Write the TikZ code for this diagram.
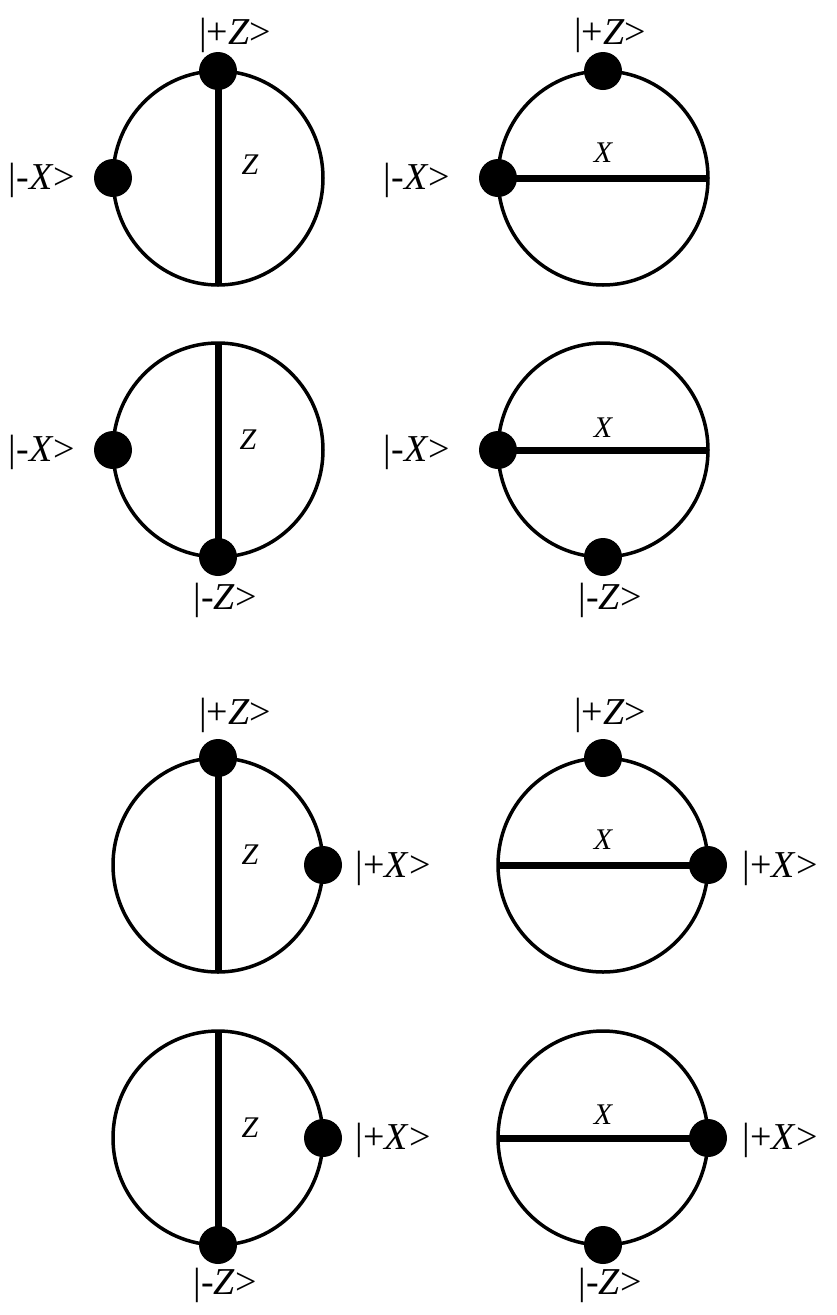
\documentclass[tikz,border=0pt]{standalone}
\usepackage{fontspec}
\setmainfont{Liberation Serif}
\usetikzlibrary{shapes.geometric}
\begin{document}
\begin{tikzpicture}[x=1pt,y=-1pt,
  ring/.style={draw,ellipse,line width=3.5pt,minimum width=210pt,minimum height=214pt,inner sep=0pt,outer sep=0pt},
  dot/.style={circle,fill=black,minimum size=38pt,inner sep=0pt},
  axis/.style={line width=7pt},
  ket/.style={font=\fontsize{38}{40}\selectfont},
  ax/.style={font=\fontsize{30}{32}\selectfont\itshape}]
\useasboundingbox (0,0) rectangle (837,1315);
% row 1
\node[ring] (c1) at (218,178) {};
\node[ring] (c2) at (603,178) {};
\draw[axis] (c1.north) -- (c1.south);
\draw[axis] (c2.west) -- (c2.east);
\node[dot] (d1a) at (c1.north) {}; \node[dot] (d1b) at (c1.west) {};
\node[dot] (d2a) at (c2.north) {}; \node[dot] (d2b) at (c2.west) {};
\node[ket] (k1a) at (235,35) {|+\textit{Z}>};
\node[ket] (k1b) at (42,180) {|-\textit{X}>};
\node[ax] (a1) at (250,165) {Z};
\node[ket] (k2a) at (610,35) {|+\textit{Z}>};
\node[ket] (k2b) at (417,180) {|-\textit{X}>};
\node[ax] (a2) at (603,153) {X};
% row 2
\node[ring] (c3) at (218,450) {};
\node[ring] (c4) at (603,450) {};
\draw[axis] (c3.north) -- (c3.south);
\draw[axis] (c4.west) -- (c4.east);
\node[dot] (d3a) at (c3.west) {}; \node[dot] (d3b) at (c3.south) {};
\node[dot] (d4a) at (c4.west) {}; \node[dot] (d4b) at (c4.south) {};
\node[ket] (k3a) at (42,452) {|-\textit{X}>};
\node[ket] (k3b) at (225,600) {|-\textit{Z}>};
\node[ax] (a3) at (248,440) {Z};
\node[ket] (k4a) at (417,452) {|-\textit{X}>};
\node[ket] (k4b) at (610,600) {|-\textit{Z}>};
\node[ax] (a4) at (603,428) {X};
% row 3
\node[ring] (c5) at (218,865) {};
\node[ring] (c6) at (603,865) {};
\draw[axis] (c5.north) -- (c5.south);
\draw[axis] (c6.west) -- (c6.east);
\node[dot] (d5a) at (c5.north) {}; \node[dot] (d5b) at (c5.east) {};
\node[dot] (d6a) at (c6.north) {}; \node[dot] (d6b) at (c6.east) {};
\node[ket] (k5a) at (235,715) {|+\textit{Z}>};
\node[ket] (k5b) at (393,868) {|+\textit{X}>};
\node[ax] (a5) at (250,855) {Z};
\node[ket] (k6a) at (610,715) {|+\textit{Z}>};
\node[ket] (k6b) at (780,868) {|+\textit{X}>};
\node[ax] (a6) at (603,840) {X};
% row 4
\node[ring] (c7) at (218,1138) {};
\node[ring] (c8) at (603,1138) {};
\draw[axis] (c7.north) -- (c7.south);
\draw[axis] (c8.west) -- (c8.east);
\node[dot] (d7a) at (c7.east) {}; \node[dot] (d7b) at (c7.south) {};
\node[dot] (d8a) at (c8.east) {}; \node[dot] (d8b) at (c8.south) {};
\node[ket] (k7a) at (393,1140) {|+\textit{X}>};
\node[ket] (k7b) at (225,1285) {|-\textit{Z}>};
\node[ax] (a7) at (250,1128) {Z};
\node[ket] (k8a) at (780,1140) {|+\textit{X}>};
\node[ket] (k8b) at (610,1285) {|-\textit{Z}>};
\node[ax] (a8) at (603,1115) {X};
\end{tikzpicture}
\end{document}
